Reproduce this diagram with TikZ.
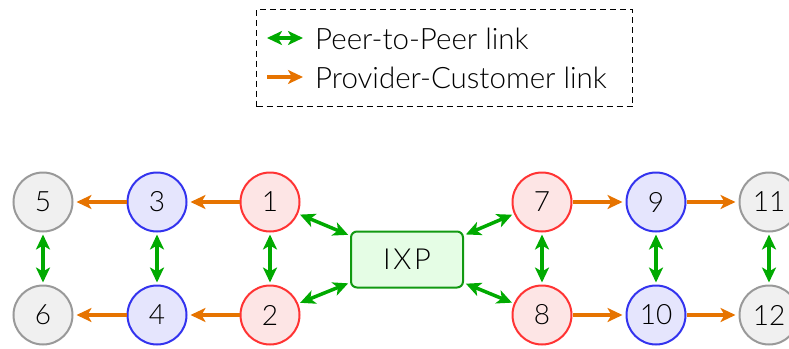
\documentclass[tikz,border=0pt]{standalone}
\usepackage{fontspec}
\setmainfont{Lato Light}
\usetikzlibrary{arrows.meta}
\definecolor{redfill}{RGB}{253,229,229}
\definecolor{redline}{RGB}{255,51,51}
\definecolor{bluefill}{RGB}{229,229,253}
\definecolor{blueline}{RGB}{51,51,238}
\definecolor{grayfill}{RGB}{240,240,240}
\definecolor{grayline}{RGB}{153,153,153}
\definecolor{ixpfill}{RGB}{229,253,229}
\definecolor{ixpline}{RGB}{17,153,17}
\definecolor{peergreen}{RGB}{0,170,0}
\definecolor{provorange}{RGB}{230,115,0}
\begin{document}
\begin{tikzpicture}[x=1pt,y=-1pt,
  asnode/.style={circle, minimum size=59pt, inner sep=0pt, line width=2pt,
    font=\fontsize{28}{30}\selectfont},
  redas/.style={asnode, draw=redline, fill=redfill},
  blueas/.style={asnode, draw=blueline, fill=bluefill},
  grayas/.style={asnode, draw=grayline, fill=grayfill},
  ixpbox/.style={rectangle, rounded corners=6pt, draw=ixpline, fill=ixpfill,
    line width=2pt, minimum width=112pt, minimum height=56pt,
    font=\fontsize{29}{30}\selectfont\addfontfeatures{LetterSpace=9}},
  peer/.style={draw=peergreen, line width=3.5pt, {Stealth[length=15pt, width=14pt, inset=4pt]}-{Stealth[length=15pt, width=14pt, inset=4pt]},
    shorten >=2pt, shorten <=2pt},
  prov/.style={draw=provorange, line width=3.5pt, -{Stealth[length=15pt, width=14pt, inset=4pt]},
    shorten >=3pt},
  legendbox/.style={draw, line width=0.8pt, dash pattern=on 6pt off 4pt,
    minimum width=376pt, minimum height=97pt, inner sep=0pt},
  legendtext/.style={anchor=west, inner sep=0pt, font=\fontsize{29.5}{31}\selectfont}
]
\useasboundingbox (0,0) rectangle (789,348);
\clip (0,0) rectangle (789,348);

% legend
\node[legendbox] (legend) at (444.5,58) {};
\coordinate (pa) at (267,38);
\coordinate (pb) at (303,38);
\coordinate (oa) at (267,77);
\coordinate (ob) at (303,77);
\draw[peer, shorten >=0pt, shorten <=0pt] (pa) -- (pb);
\draw[prov, shorten >=0pt] (oa) -- (ob);
\node[legendtext] (ptext) at (315,38.5) {Peer-to-Peer link};
\node[legendtext] (otext) at (315,77.5) {Provider-Customer link};

% autonomous systems
\node[grayas] (n5) at (43,202) {5};
\node[blueas] (n3) at (157,202) {3};
\node[redas]  (n1) at (270,202) {1};
\node[grayas] (n6) at (43,315) {6};
\node[blueas] (n4) at (157,315) {4};
\node[redas]  (n2) at (270,315) {2};

\node[redas]  (n7)  at (542,202) {7};
\node[blueas] (n9)  at (656,202) {9};
\node[grayas] (n11) at (769,202) {11};
\node[redas]  (n8)  at (542,315) {8};
\node[blueas] (n10) at (656,315) {10};
\node[grayas] (n12) at (769,315) {12};

\node[ixpbox] (ixp) at (407,259.5) {IXP};

% provider-customer links
\draw[prov] (n1) -- (n3);
\draw[prov] (n3) -- (n5);
\draw[prov] (n2) -- (n4);
\draw[prov] (n4) -- (n6);
\draw[prov] (n7) -- (n9);
\draw[prov] (n9) -- (n11);
\draw[prov] (n8) -- (n10);
\draw[prov] (n10) -- (n12);

% peer-to-peer links
\draw[peer] (n5) -- (n6);
\draw[peer] (n3) -- (n4);
\draw[peer] (n1) -- (n2);
\draw[peer] (n7) -- (n8);
\draw[peer] (n9) -- (n10);
\draw[peer] (n11) -- (n12);
\draw[peer] (n1) -- (ixp);
\draw[peer] (n2) -- (ixp);
\draw[peer] (n7) -- (ixp);
\draw[peer] (n8) -- (ixp);
\end{tikzpicture}
\end{document}
